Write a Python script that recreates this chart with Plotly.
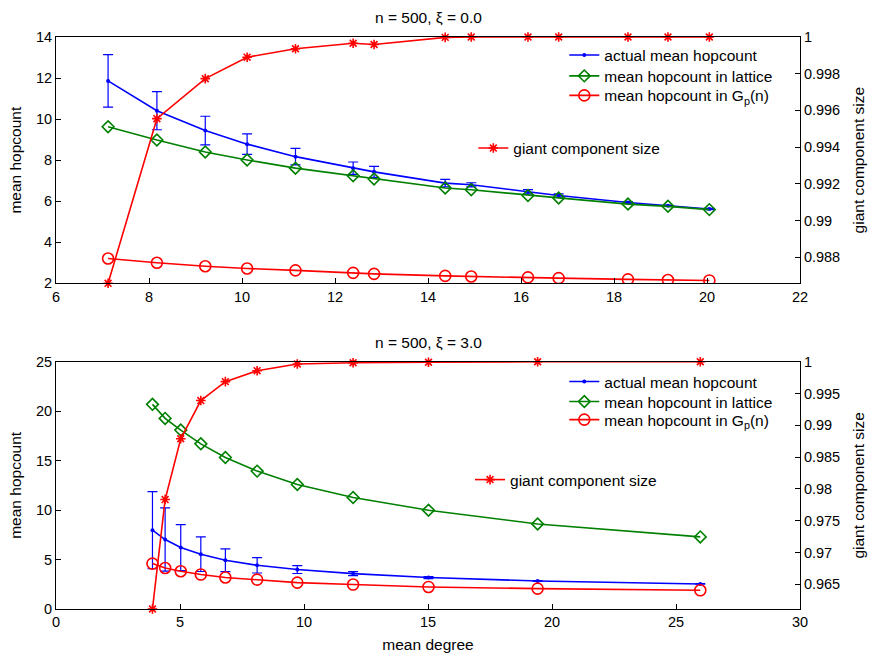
import plotly.graph_objects as go

# ---------------- data: top panel (xi = 0.0) ----------------
deg_top = [7.12, 8.17, 9.21, 10.11, 11.15, 12.39, 12.84, 14.37, 14.93, 16.15, 16.81, 18.30, 19.16, 20.05]
actual_top = [11.86, 10.41, 9.44, 8.78, 8.17, 7.61, 7.43, 6.88, 6.80, 6.46, 6.28, 5.94, 5.78, 5.62]
actual_err_top = [1.28, 0.93, 0.70, 0.50, 0.40, 0.30, 0.27, 0.18, 0.10, 0.10, 0.08, 0.04, 0.03, 0.03]
lattice_top = [9.63, 8.98, 8.40, 8.01, 7.61, 7.24, 7.08, 6.64, 6.56, 6.28, 6.16, 5.86, 5.75, 5.59]
gp_top = [3.21, 3.00, 2.83, 2.72, 2.63, 2.51, 2.46, 2.36, 2.33, 2.29, 2.25, 2.19, 2.16, 2.14]
giant_top = [0.98658, 0.99555, 0.99773, 0.99890, 0.99936, 0.99966, 0.99959, 0.99998, 1.0, 1.0, 1.0, 1.0, 1.0, 1.0]

# ---------------- data: bottom panel (xi = 3.0) ----------------
deg_bot = [3.89, 4.40, 5.03, 5.84, 6.83, 8.11, 9.73, 11.98, 15.02, 19.42, 25.98]
actual_bot = [7.97, 7.02, 6.21, 5.54, 4.93, 4.42, 3.99, 3.58, 3.18, 2.83, 2.53]
actual_err_bot = [3.90, 3.20, 2.33, 1.75, 1.15, 0.78, 0.40, 0.20, 0.10, 0.05, 0.03]
lattice_bot = [20.69, 19.27, 18.09, 16.70, 15.32, 13.94, 12.59, 11.27, 9.99, 8.60, 7.29]
gp_bot = [4.59, 4.15, 3.82, 3.48, 3.18, 2.97, 2.67, 2.47, 2.23, 2.06, 1.89]
giant_bot = [0.96111, 0.97832, 0.98788, 0.99389, 0.99687, 0.99859, 0.99964, 0.99984, 0.99992, 1.0, 1.0]

# ---------------- tick labels ----------------
xt_top = [6, 8, 10, 12, 14, 16, 18, 20, 22]
yt_top = [2, 4, 6, 8, 10, 12, 14]
y2t_top = [0.988, 0.99, 0.992, 0.994, 0.996, 0.998, 1]
y2l_top = ["0.988", "0.99", "0.992", "0.994", "0.996", "0.998", "1"]
xt_bot = [0, 5, 10, 15, 20, 25, 30]
yt_bot = [0, 5, 10, 15, 20, 25]
y2t_bot = [0.965, 0.97, 0.975, 0.98, 0.985, 0.99, 0.995, 1]
y2l_bot = ["0.965", "0.97", "0.975", "0.98", "0.985", "0.99", "0.995", "1"]

names = ["actual mean hopcount", "mean hopcount in lattice",
         "mean hopcount in G<sub>p</sub>(n)", "giant component size"]

BLUE = "#0000ff"
GREEN = "#008000"
RED = "#ff0000"
FONT = "Liberation Sans, Arial, Helvetica, sans-serif"

fig = go.Figure()


def add_panel(deg, actual, err, lattice, gp, giant, xa, ya, ya2, legs):
    fig.add_trace(go.Scatter(
        x=deg, y=actual, name=names[0], mode="lines+markers",
        line=dict(color=BLUE, width=1.6), marker=dict(color=BLUE, size=4),
        error_y=dict(type="data", array=err, visible=True, color=BLUE, thickness=1.2, width=5),
        xaxis=xa, yaxis=ya, legend=legs[0]))
    fig.add_trace(go.Scatter(
        x=deg, y=lattice, name=names[1], mode="lines+markers",
        line=dict(color=GREEN, width=1.6),
        marker=dict(symbol="diamond-open", size=9, color=GREEN, line=dict(color=GREEN, width=1.6)),
        xaxis=xa, yaxis=ya, legend=legs[1]))
    fig.add_trace(go.Scatter(
        x=deg, y=gp, name=names[2], mode="lines+markers",
        line=dict(color=RED, width=1.6),
        marker=dict(symbol="circle-open", size=11, color=RED, line=dict(color=RED, width=1.6)),
        xaxis=xa, yaxis=ya, legend=legs[2]))
    fig.add_trace(go.Scatter(
        x=deg, y=giant, name=names[3], mode="lines+markers", cliponaxis=False,
        line=dict(color=RED, width=1.6),
        marker=dict(symbol="asterisk-open", size=8, color=RED, line=dict(color=RED, width=1.6)),
        xaxis=xa, yaxis=ya2, legend=legs[3]))


add_panel(deg_top, actual_top, actual_err_top, lattice_top, gp_top, giant_top,
          "x", "y", "y2", ["legend", "legend2", "legend3", "legend4"])
add_panel(deg_bot, actual_bot, actual_err_bot, lattice_bot, gp_bot, giant_bot,
          "x2", "y3", "y4", ["legend5", "legend6", "legend7", "legend8"])

TOP_DOM = [0.5694, 1.0]
BOT_DOM = [0.0, 0.4323]

tickfont = dict(family=FONT, size=14.5, color="black")
common = dict(showgrid=False, zeroline=False, showline=True, linecolor="black", linewidth=1,
              ticks="inside", ticklen=5, tickcolor="black", tickwidth=1, tickfont=tickfont,
              automargin=False)
tfont = dict(family=FONT, size=15.5, color="black")

fig.update_layout(
    width=871, height=656,
    margin=dict(l=56, r=71, t=37, b=47),
    paper_bgcolor="white", plot_bgcolor="white",
    font=dict(family=FONT, size=15, color="black"),
    showlegend=True,
    xaxis=dict(domain=[0, 1], anchor="y", range=[6, 22], tickvals=xt_top, mirror=True, **common),
    yaxis=dict(domain=TOP_DOM, anchor="x", range=[2, 14], tickvals=yt_top,
               title=dict(text="mean hopcount", font=tfont, standoff=10), **common),
    yaxis2=dict(overlaying="y", side="right", anchor="x", range=[0.98658, 1.0],
                tickvals=y2t_top, ticktext=y2l_top,
                title=dict(text="giant component size", font=tfont, standoff=13), **common),
    xaxis2=dict(domain=[0, 1], anchor="y3", range=[0, 30], tickvals=xt_bot, mirror=True,
                title=dict(text="mean degree", font=tfont, standoff=9), **common),
    yaxis3=dict(domain=BOT_DOM, anchor="x2", range=[0, 25], tickvals=yt_bot,
                title=dict(text="mean hopcount", font=tfont, standoff=10), **common),
    yaxis4=dict(overlaying="y3", side="right", anchor="x2", range=[0.96111, 1.0],
                tickvals=y2t_bot, ticktext=y2l_bot,
                title=dict(text="giant component size", font=tfont, standoff=13), **common),
)

legfont = dict(family=FONT, size=15.5, color="black")


def leg(x, y):
    return dict(x=x, y=y, xanchor="left", yanchor="middle", xref="paper", yref="paper",
                bgcolor="rgba(0,0,0,0)", borderwidth=0, font=legfont, tracegroupgap=0)


fig.update_layout(
    legend=leg(0.6832, 0.9677),
    legend2=leg(0.6832, 0.9313),
    legend3=leg(0.6832, 0.8972),
    legend4=leg(0.5609, 0.8051),
    legend5=leg(0.6832, 0.3969),
    legend6=leg(0.6832, 0.3619),
    legend7=leg(0.6832, 0.3304),
    legend8=leg(0.5565, 0.2255),
)

titles = ["n = 500, ξ = 0.0", "n = 500, ξ = 3.0"]
for t, ytop in zip(titles, [TOP_DOM[1], BOT_DOM[1]]):
    fig.add_annotation(text=t, x=0.5, y=ytop, xref="paper", yref="paper",
                       xanchor="center", yanchor="bottom", yshift=9, showarrow=False,
                       font=tfont)

fig.write_html("out.html", config={"displayModeBar": False},
               post_script="document.body.style.margin='0';")
